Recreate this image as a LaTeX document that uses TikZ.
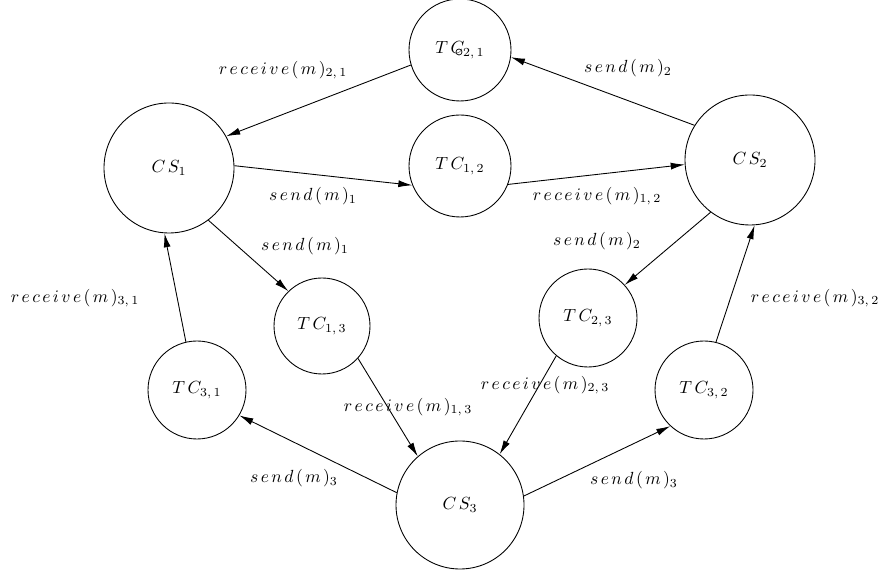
\documentclass[tikz,border=0pt]{standalone}
\usetikzlibrary{arrows.meta}
\newcommand{\lsp}{\mkern2.5mu}
\newcommand{\rcv}[2]{$r\lsp e\lsp c\lsp e\lsp i\lsp v\lsp e\lsp (\lsp m\lsp )_{#1,\,#2}$}
\newcommand{\snd}[1]{$s\lsp e\lsp n\lsp d\lsp (\lsp m\lsp )_{#1}$}
\newcommand{\chn}[2]{$T\lsp C_{#1,\,#2}$}
\newcommand{\ste}[1]{$C\lsp S_{#1}$}
\tikzset{
  site/.style={draw=black,circle,line width=0.5pt,minimum size=2.6cm,inner sep=0pt},
  chan/.style={draw=black,circle,line width=0.5pt,minimum size=2cm,inner sep=0pt},
  msg/.style={-{Latex[length=2.8mm,width=1.4mm]},line width=0.5pt},
}
\begin{document}
\begin{tikzpicture}
\useasboundingbox (0,0) rectangle (17.62,11.5);
% sites
\node[site] (cs1) at (3.38,8.14) {\ste{1}};
\node[site] (cs2) at (15.0,8.3) {\ste{2}};
\node[site,minimum size=2.56cm] (cs3) at (9.2,1.4) {\ste{3}};
% channels
\node[chan,minimum size=2.04cm] (tc21) at (9.2,10.5) {\chn{2}{1}};
\draw[line width=0.4pt] (9.18,10.46) circle (0.06cm);
\node[chan,minimum size=2.04cm] (tc12) at (9.2,8.18) {\chn{1}{2}};
\node[chan,minimum size=1.92cm] (tc13) at (6.44,4.98) {\chn{1}{3}};
\node[chan,minimum size=1.96cm] (tc23) at (11.76,5.14) {\chn{2}{3}};
\node[chan,minimum size=1.96cm] (tc31) at (3.94,3.7) {\chn{3}{1}};
\node[chan,minimum size=1.96cm] (tc32) at (14.08,3.7) {\chn{3}{2}};
% messages
\draw[msg] (tc21.197) -- (cs1.29);
\draw[msg] (cs2.148) -- (tc21.-8);
\draw[msg] (cs1.2) -- (tc12.202);
\draw[msg] (tc12.-21) -- (cs2.184);
\draw[msg] (cs1.-53) -- (tc13.134);
\draw[msg] (cs2.233) -- (tc23.42);
\draw[msg] (tc31.103) -- (cs1.266);
\draw[msg] (tc32.76) -- (cs2.-86);
\draw[msg] (tc13.-42) -- (cs3.131);
\draw[msg] (tc23.230) -- (cs3.52);
\draw[msg] (cs3.169) -- (tc31.-31);
\draw[msg] (cs3.8) -- (tc32.227);
% labels
\node (l21) at (5.66,10.1) {\rcv{2}{1}};
\node (s2a) at (12.56,10.14) {\snd{2}};
\node (s1a) at (6.26,7.58) {\snd{1}};
\node (l12) at (11.94,7.58) {\rcv{1}{2}};
\node (s1b) at (6.1,6.58) {\snd{1}};
\node (s2b) at (11.94,6.68) {\snd{2}};
\node (l31) at (1.5,5.54) {\rcv{3}{1}};
\node (l32) at (16.3,5.54) {\rcv{3}{2}};
\node (l23) at (10.9,3.8) {\rcv{2}{3}};
\node (l13) at (8.16,3.36) {\rcv{1}{3}};
\node (s3a) at (5.88,1.94) {\snd{3}};
\node (s3b) at (12.68,1.9) {\snd{3}};
\end{tikzpicture}
\end{document}
